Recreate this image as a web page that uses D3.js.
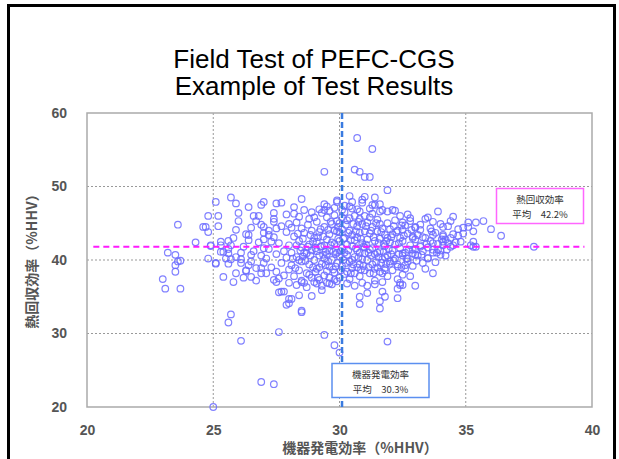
<!DOCTYPE html>
<html>
<head>
<meta charset="utf-8">
<script src="https://cdn.jsdelivr.net/npm/d3@7"></script>
<style>
  html, body { margin: 0; padding: 0; background: #fff; }
  svg { display: block; }
  .tick-label { font-family: "Liberation Sans", Arial, sans-serif; font-size: 14px; font-weight: bold; fill: #555; }
  .axis-title { font-family: "Noto Sans CJK JP", sans-serif; font-size: 14px; font-weight: bold; fill: #555; }
  .note { font-family: "Noto Sans CJK JP", sans-serif; font-size: 9.5px; fill: #333; }
</style>
</head>
<body>
<svg id="chart" width="619" height="459"></svg>
<script>
/* Field test of PEFC-CGS: electrical efficiency vs heat recovery efficiency (%HHV) */

const titleLines = ['Field Test of PEFC-CGS', 'Example of Test Results'];
const xTicks = [20, 25, 30, 35, 40];
const yTicks = [20, 30, 40, 50, 60];
const xTitle = '機器発電効率（%HHV）';
const yTitle = '熱回収効率（%HHV）';

// mean lines (drawn position) and their notes
const meanPower = 30.1;
const meanHeat = 41.8;
const powerNote = ['機器発電効率', '平均　30.3%'];
const heatNote = ['熱回収効率', '平均　42.2%'];

// points: [power eff, heat recovery eff]
const outerPoints = [
  [25.0,20.0],[26.9,23.4],[27.4,23.1],[26.1,29.0],[25.6,31.5],[25.7,32.6],[27.6,30.2],[28.5,32.9],[27.9,33.9],[28.0,34.7],
  [27.6,35.6],[27.7,35.7],[28.4,35.2],[28.9,35.1],[23.0,37.4],[23.1,36.1],[23.7,36.1],[23.5,38.4],[23.6,39.8],[23.5,40.7],
  [23.2,41.0],[23.7,39.9],[23.5,39.3],[23.6,44.8],[24.3,42.4],[24.6,44.5],[24.7,44.5],[24.8,43.8],[24.8,46.0],[25.2,46.0],
  [25.2,44.6],[25.1,47.9],[24.9,42.0],[24.8,40.2],[25.1,39.6],[25.3,42.5],[25.4,41.1],[25.7,48.5],[25.9,47.7],[26.0,46.4],
  [26.4,47.2],[26.6,46.0],[26.8,46.0],[26.9,47.5],[27.0,47.9],[26.9,44.8],[27.0,44.5],[26.0,45.3],[25.8,43.0],[25.6,42.6],
  [26.3,43.5],[26.4,42.7],[25.9,44.1],[27.4,46.4],[27.5,47.7],[27.4,45.2],[27.5,44.3],[27.2,43.4],[27.0,42.8],[27.3,42.5]
];
const topPoints = [
  [29.4,52.0],[30.7,56.6],[31.3,55.1],[30.6,52.3],[30.8,52.0],[31.0,51.3],[31.2,51.3],[31.9,49.5],[29.9,47.9],[30.4,48.7],
  [31.0,48.6],[31.4,48.5],[28.5,48.3],[27.7,47.8],[28.2,47.2],[29.9,48.1],[30.5,47.9],[30.9,48.2],[31.3,47.5],[29.5,47.3],
  [29.4,46.8],[30.8,46.6],[30.1,46.8],[30.4,47.3],[32.1,46.8],[31.6,46.6],[31.4,47.5]
];
const rightPoints = [
  [33.9,46.6],[34.5,45.9],[35.1,45.1],[35.4,45.1],[35.7,45.3],[36.0,44.2],[36.4,43.3],[37.7,41.8],[35.3,43.9],[34.9,43.6],
  [34.8,42.5],[35.3,42.5],[35.3,41.8],[35.1,44.5],[32.8,45.7],[33.5,45.8],[33.7,45.2],[34.4,45.3],[34.9,44.4],[34.1,44.5],
  [34.1,43.4],[34.7,44.2],[34.7,43.3],[33.7,43.4],[33.7,42.3],[33.2,44.1],[33.0,44.4],[33.3,43.1],[32.5,45.1],[32.5,44.1],
  [32.9,43.0],[34.1,42.5],[34.4,43.0],[34.5,42.0],[32.6,39.3],[32.7,40.2],[33.0,40.7],[33.5,40.2],[34.0,40.7],[33.9,41.4],
  [34.1,42.0],[34.3,42.3],[35.2,42.0],[35.4,41.8],[33.0,36.5],[32.5,36.6],[33.2,41.8],[33.7,41.4],[32.5,40.9],[32.9,41.4]
];
const lowPoints = [
  [28.0,36.9],[27.8,35.7],[28.1,34.7],[28.0,34.1],[28.5,33.1],[29.3,35.9],[29.4,29.8],[30.8,35.0],[30.8,34.0],[31.1,35.5],
  [31.6,34.4],[31.7,35.7],[31.8,35.0],[31.6,33.4],[32.3,36.1],[32.3,34.8],[31.7,38.2],[31.8,38.6],[32.3,39.1],[32.0,39.8],
  [29.1,36.8],[29.6,36.8],[29.8,37.3],[28.5,37.0],[29.0,37.0],[29.8,28.4],[30.0,27.4],[31.9,28.9],[32.4,36.6],
  [24.9,41.9],[25.1,39.5],[25.4,37.7],[25.8,37.0],[25.9,38.2],[25.3,41.1],[25.6,40.9],[25.5,40.2],[25.6,39.5],[25.7,40.1],
  [26.1,39.6],[26.1,41.0],[25.7,42.0],[25.3,42.0],[25.6,41.5],[25.9,40.4],[26.5,40.7],[26.4,39.3],[26.3,38.6],[26.5,37.7],
  [26.7,38.9],[26.9,38.2],[27.0,39.6],[27.1,38.2],[27.4,37.3],[27.5,37.0]
];
const corePoints = [
  [26.1,40.1],[26.2,41.8],[26.3,38.5],[26.4,43.4],[26.5,39.8],[26.6,41.2],[26.7,37.2],[26.8,42.4],[26.9,40.6],[26.9,38.9],
  [27.0,43.7],[27.0,41.6],[26.5,44.4],[26.2,37.6],[26.7,45.3],
  [27.1,40.2],[27.2,41.5],[27.3,39.0],[27.4,43.1],[27.5,40.8],[27.5,38.4],[27.6,42.3],[27.7,44.6],[27.7,39.6],[27.8,41.2],
  [27.8,37.9],[27.9,43.8],[27.9,40.3],[28.0,42.0],[28.0,38.7],[27.2,44.0],[27.4,45.6],[27.6,37.5],[27.9,46.2],[28.0,44.9],
  [28.1,41.0],[28.1,39.3],[28.2,43.2],[28.2,37.8],[28.3,45.1],[28.3,40.4],[28.4,42.6],[28.4,38.6],[28.5,44.3],[28.5,41.7],
  [28.5,39.8],[28.6,36.9],[28.6,43.7],[28.7,40.9],[28.7,38.2],[28.8,45.6],[28.8,42.1],[28.8,39.4],[28.9,44.0],[28.9,41.3],
  [28.9,37.6],[29.0,43.0],[29.0,40.0],[28.2,46.3],[28.4,45.9],[28.6,46.8],[28.3,36.6],[28.7,36.3],[28.9,46.5],[28.1,44.4],
  [28.5,37.2],[28.6,41.0],[28.3,42.0],[28.8,38.0],[28.4,40.0],
  [29.1,42.5],[29.1,38.8],[29.1,45.2],[29.2,40.6],[29.2,37.3],[29.2,43.8],[29.3,41.9],[29.3,39.5],[29.3,46.4],[29.4,44.5],
  [29.4,40.2],[29.4,37.9],[29.5,42.8],[29.5,38.5],[29.5,45.8],[29.6,41.3],[29.6,39.1],[29.6,43.5],[29.7,40.0],[29.7,36.7],
  [29.7,44.9],[29.8,42.2],[29.8,38.3],[29.8,46.1],[29.9,41.0],[29.9,43.9],[29.9,39.6],[30.0,45.0],[30.0,42.6],[30.0,37.6],
  [30.0,40.5],[29.2,46.9],[29.4,47.6],[29.6,46.7],[29.8,47.1],[29.3,36.5],[29.5,36.9],[29.9,37.1],[29.1,41.2],[29.4,42.0],
  [29.7,42.4],[29.6,37.6],[29.2,39.0],[29.8,44.0],[29.5,40.8],[29.0,45.8],[29.9,45.3],
  [30.1,41.6],[30.1,39.2],[30.1,44.2],[30.2,43.0],[30.2,38.1],[30.2,46.5],[30.3,40.7],[30.3,42.1],[30.3,45.4],[30.4,39.8],
  [30.4,44.0],[30.4,37.4],[30.5,41.9],[30.5,43.4],[30.5,38.9],[30.6,46.0],[30.6,40.4],[30.6,42.7],[30.7,44.6],[30.7,39.0],
  [30.7,41.3],[30.8,43.7],[30.8,37.8],[30.8,45.6],[30.9,40.1],[30.9,42.3],[30.9,44.9],[31.0,38.6],[31.0,41.7],[31.0,43.9],
  [30.2,47.4],[30.5,47.0],[30.7,46.9],[30.9,47.8],[30.3,36.8],[30.6,36.5],[30.9,36.9],[30.1,45.8],[30.4,45.7],[30.8,39.4],
  [30.6,38.2],[30.2,41.0],[30.5,40.0],[30.0,43.8],[30.7,43.1],[31.0,46.0],[30.3,38.4],[30.8,41.0],
  [31.1,40.0],[31.1,42.8],[31.1,45.1],[31.2,38.2],[31.2,41.4],[31.2,43.6],[31.3,39.4],[31.3,44.5],[31.3,46.3],[31.4,40.8],
  [31.4,42.6],[31.4,37.2],[31.5,43.9],[31.5,39.0],[31.5,45.5],[31.6,41.2],[31.6,38.4],[31.6,42.9],[31.7,44.3],[31.7,40.1],
  [31.7,46.8],[31.8,41.9],[31.8,38.9],[31.8,43.4],[31.9,45.0],[31.9,40.6],[31.9,37.8],[32.0,42.4],[32.0,44.2],[32.0,39.5],
  [31.2,47.0],[31.6,47.6],[31.9,46.6],[31.4,36.7],[31.7,37.0],[31.1,36.5],[31.3,41.6],[31.5,41.0],[31.8,40.4],[31.6,44.9],
  [31.0,40.9],[31.9,43.0],[31.4,38.8],[31.2,45.8],
  [32.1,41.3],[32.1,43.5],[32.1,38.6],[32.2,45.4],[32.2,40.2],[32.2,42.1],[32.3,44.0],[32.3,39.4],[32.4,41.6],[32.4,43.0],
  [32.4,46.0],[32.5,40.6],[32.5,42.6],[32.5,38.0],[32.6,44.7],[32.6,41.0],[32.7,43.6],[32.7,39.8],[32.8,42.0],[32.8,45.3],
  [32.9,40.9],[32.9,43.2],[33.0,41.5],[33.0,44.5],[32.3,37.4],[32.6,38.8],[32.9,39.2],[32.2,46.7],[32.7,46.2],[32.4,36.9],
  [32.8,37.8],[33.0,42.8],
  [33.1,40.6],[33.1,43.4],[33.2,42.0],[33.2,44.8],[33.3,41.2],[33.3,39.6],[33.4,43.0],[33.4,45.6],[33.5,41.7],[33.5,40.3],
  [33.6,42.6],[33.6,44.3],[33.7,41.0],[33.8,43.7],[33.8,39.7],[33.9,42.2],[34.0,44.9],[34.0,41.3],[34.1,43.2],[34.2,40.6],
  [34.2,42.8],[34.3,44.6],[34.4,41.8],[34.5,43.5],[34.6,42.4],[33.4,38.8],[33.7,38.2],
  [28.55,42.9],[28.75,44.8],[28.95,39.0],[29.05,41.6],[29.25,44.2],[29.45,39.3],[29.65,45.2],[29.85,40.8],[30.05,38.6],[30.25,44.8],
  [30.45,42.7],[30.65,41.6],[30.85,38.7],[31.05,44.6],[31.25,40.6],[31.45,45.0],[31.65,39.6],[31.85,42.6],[32.05,40.8],[32.25,43.8],
  [28.65,39.9],[28.85,43.4],[29.15,37.6],[29.35,43.2],[29.55,44.1],[29.75,38.7],[29.95,42.9],[30.15,40.0],[30.35,43.7],[30.55,39.4],
  [30.75,45.2],[30.95,41.8],[31.15,39.0],[31.35,43.1],[31.55,40.4],[31.75,42.2],[31.95,41.5],[32.15,44.6],[32.35,40.8],[32.55,43.3],
  [28.45,41.3],[29.25,41.8],[30.05,41.2],[30.85,42.9],[31.65,43.8],[32.45,39.0],[28.15,40.2],[28.95,42.5],[29.75,41.1],[30.55,44.9],
  [31.35,38.2],[32.75,41.4],
  [28.25,38.9],[28.35,43.6],[28.55,40.5],[28.75,41.8],[28.85,40.6],[29.05,38.4],[29.15,43.1],[29.35,40.7],[29.45,41.1],[29.55,39.8],
  [29.65,42.0],[29.85,39.1],[29.95,44.5],[30.15,42.9],[30.25,39.6],[30.35,41.3],[30.45,38.2],[30.65,43.9],[30.75,40.3],[30.95,39.2],
  [31.05,42.1],[31.15,41.0],[31.25,44.0],[31.45,39.7],[31.55,42.3],[31.75,41.1],[31.85,39.5],[32.05,43.1],[32.15,39.9],[32.35,42.3],
  [32.45,44.7],[32.65,40.2],[32.85,44.1],[33.05,39.9],[33.25,40.7],[33.45,42.2],[33.65,43.9],[33.85,41.0],[34.05,42.8],[34.25,41.4]
];

const points = [...outerPoints, ...topPoints, ...rightPoints, ...lowPoints, ...corePoints];

const svg = d3.select('#chart');
const plot = { left: 87, top: 113, right: 592, bottom: 407 };

const x = d3.scaleLinear().domain([20, 40]).range([plot.left, plot.right]);
const y = d3.scaleLinear().domain([20, 60]).range([plot.bottom, plot.top]);

// outer frame
svg.append('rect')
  .attr('x', 8.5).attr('y', 5.5)
  .attr('width', 606).attr('height', 470)
  .attr('fill', 'none').attr('stroke', '#000').attr('stroke-width', 3);

// title
svg.append('g')
  .selectAll('text')
  .data(titleLines)
  .join('text')
  .attr('x', 314)
  .attr('y', (d, i) => 68 + i * 27)
  .attr('text-anchor', 'middle')
  .style('font-family', '"Liberation Sans", Arial, sans-serif')
  .style('font-size', '26px')
  .text(d => d);

// grid
const grid = svg.append('g');
grid.selectAll('.gx')
  .data(xTicks.slice(1, -1))
  .join('line')
  .attr('x1', d => x(d)).attr('x2', d => x(d))
  .attr('y1', plot.top).attr('y2', plot.bottom)
  .attr('stroke', '#999').attr('stroke-dasharray', '2,2');
grid.selectAll('.gy')
  .data(yTicks.slice(1, -1))
  .join('line')
  .attr('y1', d => y(d)).attr('y2', d => y(d))
  .attr('x1', plot.left).attr('x2', plot.right)
  .attr('stroke', '#999').attr('stroke-dasharray', '2,2');

// plot frame
svg.append('rect')
  .attr('x', plot.left).attr('y', plot.top)
  .attr('width', plot.right - plot.left).attr('height', plot.bottom - plot.top)
  .attr('fill', 'none').attr('stroke', '#aaa').attr('stroke-width', 1.5);

// axes labels
const xAxis = d3.axisBottom(x).tickValues(xTicks).tickSize(0).tickPadding(18);
svg.append('g')
  .attr('transform', `translate(0,${plot.bottom})`)
  .call(xAxis)
  .call(g => g.select('.domain').remove())
  .call(g => g.selectAll('text').attr('class', 'tick-label').attr('fill', null));

const yAxis = d3.axisLeft(y).tickValues(yTicks).tickSize(0).tickPadding(20);
svg.append('g')
  .attr('transform', `translate(${plot.left},0)`)
  .call(yAxis)
  .call(g => g.select('.domain').remove())
  .call(g => g.selectAll('text').attr('class', 'tick-label').attr('fill', null));

svg.append('text')
  .attr('class', 'axis-title')
  .attr('x', 360).attr('y', 453)
  .attr('text-anchor', 'middle')
  .text(xTitle);

svg.append('text')
  .attr('class', 'axis-title')
  .attr('transform', 'translate(37,258) rotate(-90)')
  .attr('text-anchor', 'middle')
  .text(yTitle);

// points
svg.append('g')
  .selectAll('circle')
  .data(points)
  .join('circle')
  .attr('cx', d => x(d[0]))
  .attr('cy', d => y(d[1]))
  .attr('r', 3.3)
  .attr('fill', 'none')
  .attr('stroke', '#6b6bff')
  .attr('stroke-opacity', 0.85)
  .attr('stroke-width', 1.2);

// mean lines
svg.append('line')
  .attr('x1', x(20.25)).attr('x2', x(39.7))
  .attr('y1', y(meanHeat)).attr('y2', y(meanHeat))
  .attr('stroke', '#ff1aff').attr('stroke-width', 2)
  .attr('stroke-dasharray', '6,4');

svg.append('line')
  .attr('x1', x(meanPower)).attr('x2', x(meanPower))
  .attr('y1', plot.top).attr('y2', plot.bottom + 1)
  .attr('stroke', '#3a7be0').attr('stroke-width', 2.5)
  .attr('stroke-dasharray', '6,3');

// notes
function note(cx, top, w, h, color, lines) {
  svg.append('rect')
    .attr('x', cx - w / 2).attr('y', top)
    .attr('width', w).attr('height', h)
    .attr('fill', '#fff').attr('stroke', color).attr('stroke-width', 1.5);
  svg.append('g')
    .selectAll('text')
    .data(lines)
    .join('text')
    .attr('class', 'note')
    .attr('text-anchor', 'middle')
    .attr('x', cx)
    .attr('y', (d, i) => top + 14 + i * 15)
    .text(d => d);
}
note(540, 188.5, 87, 35, '#ff66ff', heatNote);
note(380.5, 363.5, 97, 34, '#5b8ff0', powerNote);
</script>
</body>
</html>
